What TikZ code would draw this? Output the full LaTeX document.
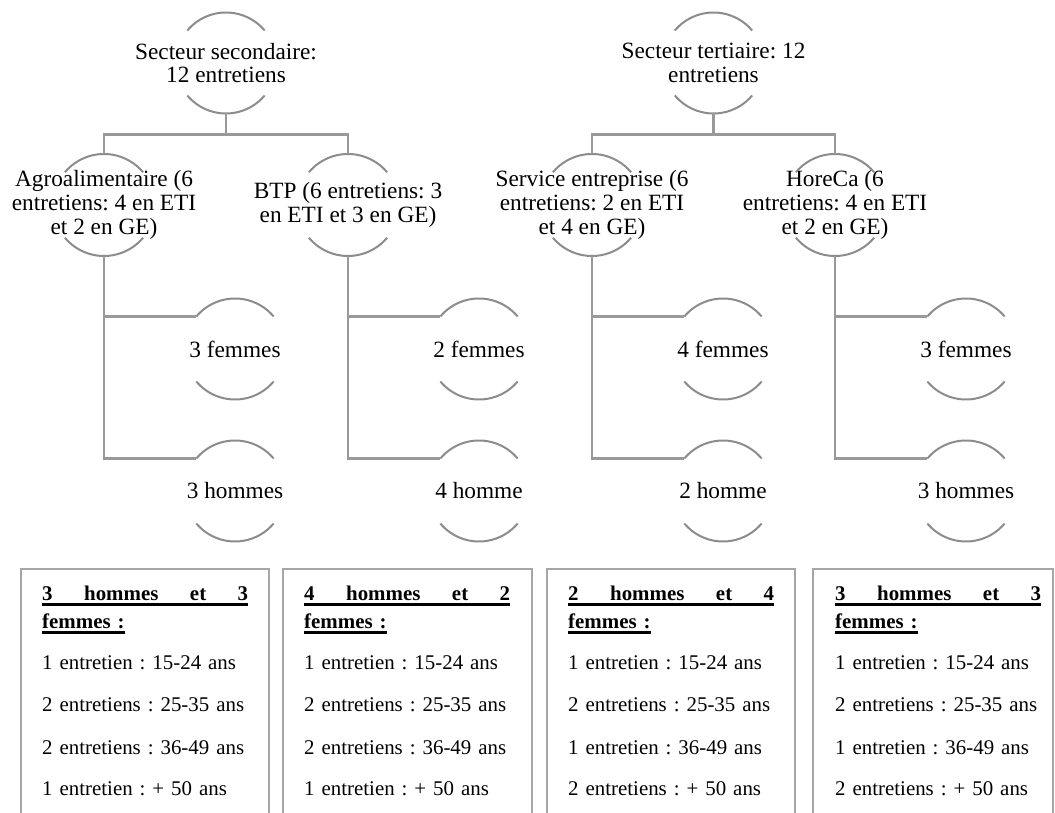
\documentclass[tikz,border=0pt]{standalone}
\usepackage{fontspec}
\setmainfont{Liberation Serif}
\frenchspacing
\definecolor{arcgray}{HTML}{8C8C8C}
\definecolor{conngray}{HTML}{999999}
\definecolor{boxgray}{HTML}{A6A6A6}
\newsavebox\ulsave
\newcommand\hdrline[4]{\leavevmode\hbox to 206pt{\rlap{\rule[-5pt]{206pt}{2.6pt}}\bfseries #1\hfill #2\hfill #3\hfill #4}}
\newcommand\ulword[1]{\leavevmode\sbox\ulsave{\bfseries #1}\rlap{\rule[-5pt]{\wd\ulsave}{2.6pt}}\usebox\ulsave}
\newcommand\arcpair[2]{%
  \draw[arcline] (#1.140) arc[start angle=140,end angle=40,radius=#2];
  \draw[arcline] (#1.220) arc[start angle=220,end angle=320,radius=#2];}
\tikzset{
  arcnode/.style={circle, draw=none, minimum size=101pt, inner sep=0pt, outer sep=0pt},
  lbl/.style={align=center, font=\fontsize{23.3}{23.8}\selectfont\frenchspacing, inner sep=0pt},
  arcline/.style={draw=arcgray, line width=2pt},
  conn/.style={draw=conngray, line width=2.2pt},
  boxnode/.style={draw=boxgray, line width=2pt, rectangle, anchor=north west, minimum height=270pt, inner sep=0pt, outer sep=0pt},
  boxtext/.style={anchor=north west, inner sep=0pt, text width=206pt, align=left, font=\fontsize{20.9}{26}\selectfont\frenchspacing},
}
\begin{document}
\begin{tikzpicture}[x=1pt,y=1pt]
\fill[white] (0,0) rectangle (1055,812);
\useasboundingbox (0,0) rectangle (1055,812);

% roots
\node[arcnode] (r1) at (226,749) {};
\node[lbl] (r1t) at (r1) {Secteur secondaire:\\12 entretiens};
\node[arcnode] (r2) at (713.5,749) {};
\node[lbl] (r2t) at (r2) {Secteur tertiaire: 12\\entretiens};

% children
\node[arcnode, minimum size=102pt] (c1) at (104,607) {};
\node[lbl] (c1t) at (c1) {Agroalimentaire (6\\entretiens: 4 en ETI\\et 2 en GE)};
\node[arcnode, minimum size=102pt] (c2) at (348,607) {};
\node[lbl] (c2t) at (c2) {BTP (6 entretiens: 3\\en ETI et 3 en GE)};
\node[arcnode, minimum size=102pt] (c3) at (592,607) {};
\node[lbl] (c3t) at (c3) {Service entreprise (6\\entretiens: 2 en ETI\\et 4 en GE)};
\node[arcnode, minimum size=102pt] (c4) at (835,607) {};
\node[lbl] (c4t) at (c4) {HoreCa (6\\entretiens: 4 en ETI\\et 2 en GE)};

% grandchildren
\node[arcnode] (g11) at (235,463) {};
\node[lbl] (g11t) at (g11) {3 femmes};
\node[arcnode] (g12) at (235,321) {};
\node[lbl] (g12t) at (g12) {3 hommes};
\node[arcnode] (g21) at (479,463) {};
\node[lbl] (g21t) at (g21) {2 femmes};
\node[arcnode] (g22) at (479,321) {};
\node[lbl] (g22t) at (g22) {4 homme};
\node[arcnode] (g31) at (723,463) {};
\node[lbl] (g31t) at (g31) {4 femmes};
\node[arcnode] (g32) at (723,321) {};
\node[lbl] (g32t) at (g32) {2 homme};
\node[arcnode] (g41) at (966,463) {};
\node[lbl] (g41t) at (g41) {3 femmes};
\node[arcnode] (g42) at (966,321) {};
\node[lbl] (g42t) at (g42) {3 hommes};

% arcs
\arcpair{r1}{50.5pt}
\arcpair{r2}{50.5pt}
\arcpair{c1}{51pt}
\arcpair{c2}{51pt}
\arcpair{c3}{51pt}
\arcpair{c4}{51pt}
\arcpair{g11}{50.5pt}
\arcpair{g12}{50.5pt}
\arcpair{g21}{50.5pt}
\arcpair{g22}{50.5pt}
\arcpair{g31}{50.5pt}
\arcpair{g32}{50.5pt}
\arcpair{g41}{50.5pt}
\arcpair{g42}{50.5pt}

% connectors
\draw[conn] (r1.south) -- ++(0,-21) coordinate (j1);
\draw[conn] (j1) -| (c1.north);
\draw[conn] (j1) -| (c2.north);
\draw[conn] (r2.south) -- ++(0,-21) coordinate (j2);
\draw[conn] (j2) -| (c3.north);
\draw[conn] (j2) -| (c4.north);
\draw[conn] (c1.south) |- (g11.140);
\draw[conn] (c1.south) |- (g12.140);
\draw[conn] (c2.south) |- (g21.140);
\draw[conn] (c2.south) |- (g22.140);
\draw[conn] (c3.south) |- (g31.140);
\draw[conn] (c3.south) |- (g32.140);
\draw[conn] (c4.south) |- (g41.140);
\draw[conn] (c4.south) |- (g42.140);

% boxes
\node[boxnode, minimum width=248pt] (b1) at (21,243) {};
\node[boxnode, minimum width=249pt] (b2) at (283,243) {};
\node[boxnode, minimum width=248pt] (b3) at (547,243) {};
\node[boxnode, minimum width=240pt] (b4) at (813,243) {};

\node[boxtext] (t1) at ([xshift=21pt,yshift=-17pt]b1.north west) {\hdrline{3}{hommes}{et}{3}\\[2pt]\ulword{femmes :}\\[15pt]1 entretien : 15-24 ans\\[16pt]2 entretiens : 25-35 ans\\[17pt]2 entretiens : 36-49 ans\\[15pt]1 entretien : + 50 ans};
\node[boxtext] (t2) at ([xshift=21pt,yshift=-17pt]b2.north west) {\hdrline{4}{hommes}{et}{2}\\[2pt]\ulword{femmes :}\\[15pt]1 entretien : 15-24 ans\\[16pt]2 entretiens : 25-35 ans\\[17pt]2 entretiens : 36-49 ans\\[15pt]1 entretien : + 50 ans};
\node[boxtext] (t3) at ([xshift=21pt,yshift=-17pt]b3.north west) {\hdrline{2}{hommes}{et}{4}\\[2pt]\ulword{femmes :}\\[15pt]1 entretien : 15-24 ans\\[16pt]2 entretiens : 25-35 ans\\[17pt]1 entretien : 36-49 ans\\[15pt]2 entretiens : + 50 ans};
\node[boxtext] (t4) at ([xshift=22pt,yshift=-17pt]b4.north west) {\hdrline{3}{hommes}{et}{3}\\[2pt]\ulword{femmes :}\\[15pt]1 entretien : 15-24 ans\\[16pt]2 entretiens : 25-35 ans\\[17pt]1 entretien : 36-49 ans\\[15pt]2 entretiens : + 50 ans};
\end{tikzpicture}
\end{document}
